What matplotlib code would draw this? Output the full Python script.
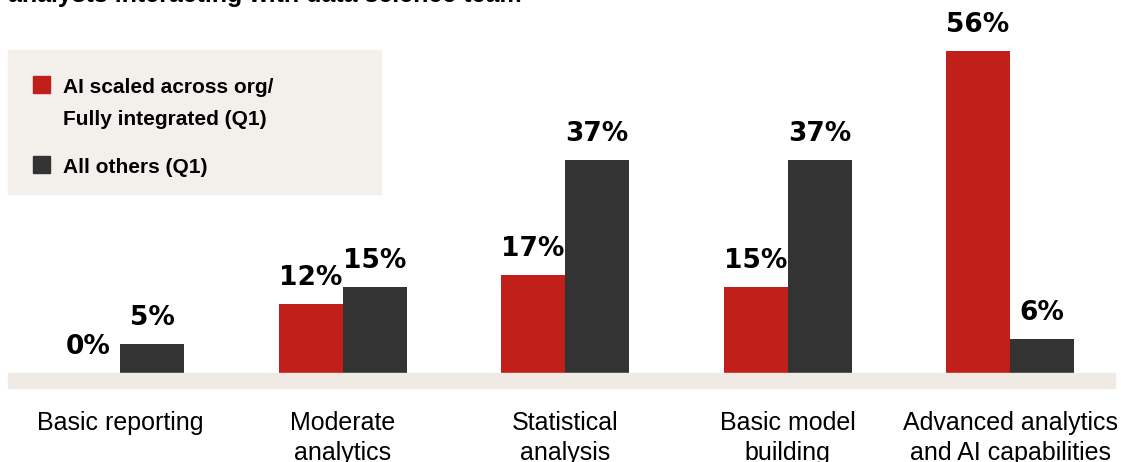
import matplotlib
matplotlib.use("Agg")
import matplotlib.pyplot as plt
from matplotlib.patches import Rectangle

categories = ["Basic reporting", "Moderate\nanalytics", "Statistical\nanalysis",
              "Basic model\nbuilding", "Advanced analytics\nand AI capabilities"]
ai_scaled = [0, 12, 17, 15, 56]
all_others = [5, 15, 37, 37, 6]
series_names = ["AI scaled across org/\nFully integrated (Q1)", "All others (Q1)"]
title = "analysts interacting with data science team"

RED = "#c01f1a"
DARK = "#333333"
BAND = "#efebe4"
LEGBG = "#f3efeb"

W, H = 1121, 462
fig = plt.figure(figsize=(W / 100, H / 100), dpi=100)
ax = fig.add_axes([0, 0, 1, 1])
ax.set_axis_off()

# pixel mapping: group centers 120 + 222.5*i ; baseline at y px 373, 5.75 px per %
PXU = 222.5
PPV = 5.75
ax.set_xlim(-120 / PXU, (W - 120) / PXU)
ax.set_ylim((373 - H) / PPV, 373 / PPV)

font = "Liberation Sans"
vfont = "DejaVu Sans"
bw = 64 / PXU
x = list(range(len(categories)))

ax.bar([i - bw / 2 for i in x], ai_scaled, width=bw, color=RED, zorder=3)
ax.bar([i + bw / 2 for i in x], all_others, width=bw, color=DARK, zorder=3)

for i in x:
    for dx, v in ((-bw / 2, ai_scaled[i]), (bw / 2, all_others[i])):
        ax.annotate(f"{v}%", (i + dx, v), xytext=(0, 19 * 0.72), textcoords="offset points",
                    ha="center", va="baseline", fontsize=19, fontweight="bold",
                    family=vfont, color="black")
    ax.text(i, (373 - 411) / PPV, categories[i], ha="center", va="top",
            fontsize=18, family=font, color="black", linespacing=1.33)

# baseline band
fig.patches.append(Rectangle((8 / W, (H - 388) / H), 1107 / W, 15 / H,
                             transform=fig.transFigure, color=BAND, zorder=1))

# legend box
fig.patches.append(Rectangle((8 / W, (H - 194) / H), 373 / W, 144 / H,
                             transform=fig.transFigure, color=LEGBG, zorder=1))
fig.patches.append(Rectangle((33 / W, (H - 93) / H), 17 / W, 17 / H,
                             transform=fig.transFigure, color=RED, zorder=2))
fig.patches.append(Rectangle((33 / W, (H - 173) / H), 17 / W, 17 / H,
                             transform=fig.transFigure, color=DARK, zorder=2))
l1, l2 = series_names[0].split("\n")
fig.text(63 / W, 1 - 93 / H, l1, fontsize=15, fontweight="bold", family=font, va="baseline")
fig.text(63 / W, 1 - 125 / H, l2, fontsize=15, fontweight="bold", family=font, va="baseline")
fig.text(63 / W, 1 - 173 / H, series_names[1], fontsize=15, fontweight="bold", family=font, va="baseline")

# title (cut off at top in reference)
fig.text(8 / W, 1 - 2 / H, title, fontsize=18, fontweight="bold", family=font, va="baseline")

fig.savefig("out.png", dpi=100, facecolor="white")
